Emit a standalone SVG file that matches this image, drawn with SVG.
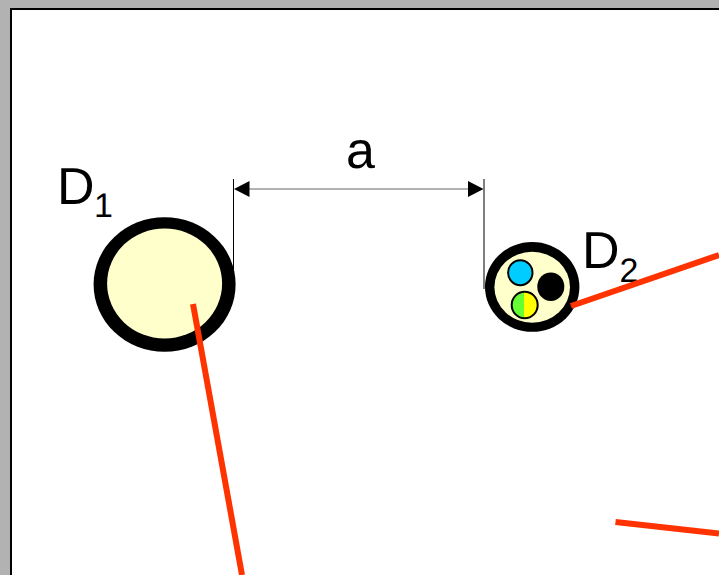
<svg xmlns="http://www.w3.org/2000/svg" width="719" height="575" viewBox="0 0 719 575">
<defs><style>
.t{font-family:"Liberation Sans",Arial,sans-serif;fill:#000;text-rendering:geometricPrecision}
.r{stroke:#ff3300;stroke-width:6;fill:none}
.d{stroke:#666;stroke-width:1;fill:none}
.e{stroke:#000;stroke-width:1;fill:none}
.k{fill:#000}
.y{fill:#ffffcc}
</style></defs>
<rect width="719" height="575" fill="#b2b2b2"/>
<rect x="11" y="9" width="720" height="580" fill="#fff" stroke="#000" stroke-width="2"/>
<g id="connectors">
<line class="e" x1="233.500" y1="179" x2="233.500" y2="270"/>
<line class="e" x1="484" y1="179" x2="484" y2="289"/>
<line class="d" x1="248" y1="189" x2="470" y2="189"/>
<polygon points="234,189 249.500,181 249.500,197"/>
<polygon points="483.500,189 468,181 468,197"/>
</g>
<g id="D1">
<ellipse class="k" cx="164.600" cy="284.500" rx="71" ry="67.300"/>
<ellipse class="y" cx="164.600" cy="283.500" rx="57.500" ry="55"/>
<text class="t" x="57" y="204" font-size="52">D</text>
<text class="t" x="94" y="217" font-size="34">1</text>
</g>
<g id="D2">
<ellipse class="k" cx="532.200" cy="286.900" rx="47.200" ry="44.900"/>
<ellipse class="y" cx="532.200" cy="287.200" rx="37.800" ry="35.500"/>
<ellipse cx="520.300" cy="272.700" rx="12.200" ry="12.500" fill="#00ccff" stroke="#000" stroke-width="2"/>
<ellipse class="k" cx="550.800" cy="286.700" rx="13.500" ry="14.300"/>
<ellipse cx="524.700" cy="305" rx="13" ry="13.300" fill="#ffff00"/>
<path d="M524 291.700A13 13.300 0 0 0 524 318.300z" fill="#66ff33"/>
<ellipse cx="524.700" cy="305" rx="13" ry="13.300" fill="none" stroke="#000" stroke-width="2"/>
<text class="t" x="582" y="268" font-size="52">D</text>
<text class="t" x="619.500" y="282" font-size="34">2</text>
</g>
<g id="label-a"><text class="t" x="346" y="168" font-size="52">a</text></g>
<g id="red-lines">
<line class="r" x1="193" y1="304" x2="242" y2="575"/>
<line class="r" x1="571" y1="306" x2="719" y2="255"/>
<line class="r" x1="615.500" y1="522" x2="719" y2="533.500"/>
</g>
</svg>
